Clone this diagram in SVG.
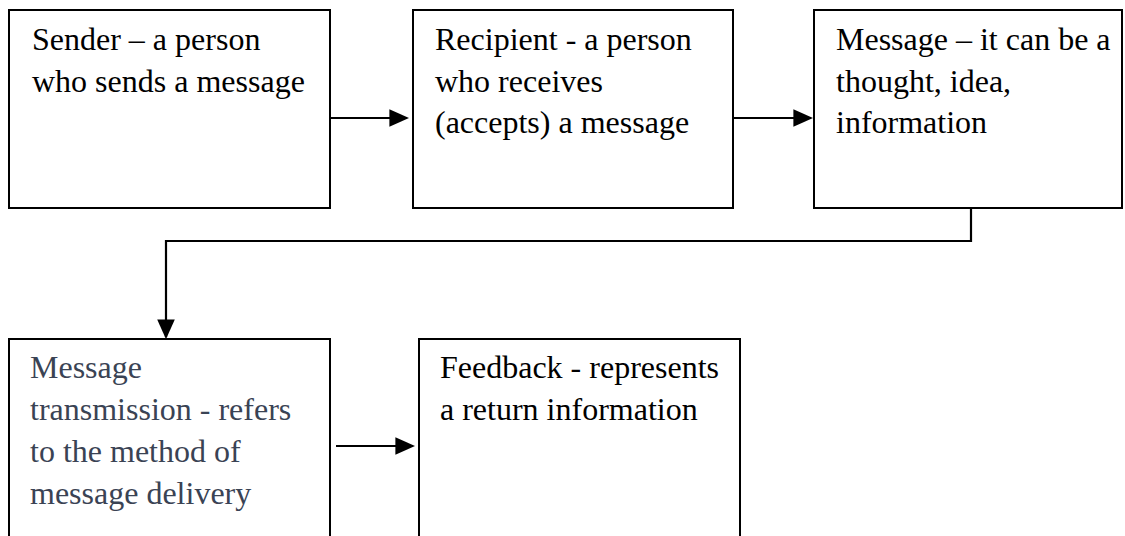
<svg xmlns="http://www.w3.org/2000/svg" width="1125" height="536" viewBox="0 0 1125 536">
<style>
.box{fill:#fff;stroke:#000;stroke-width:2}
.t{font-family:"Liberation Serif","Times New Roman",serif;font-size:32px;fill:#000}
.g{fill:#3a4354}
.c{fill:none;stroke:#000;stroke-width:2.2}
</style>
<defs>
<marker id="ah" markerWidth="9" markerHeight="8" refX="8" refY="4" orient="auto" markerUnits="strokeWidth">
<path d="M0,0 L9,4 L0,8 Z" fill="#000"/>
</marker>
</defs>
<rect width="1125" height="536" fill="#fff"/>
<g id="sender">
<rect class="box" x="9" y="10" width="321" height="198"/>
<text class="t" x="32" y="50">Sender – a person</text>
<text class="t" x="32" y="92">who sends a message</text>
</g>
<g id="recipient">
<rect class="box" x="413" y="10" width="320" height="198"/>
<text class="t" x="435" y="50">Recipient - a person</text>
<text class="t" x="435" y="92">who receives</text>
<text class="t" x="435" y="133">(accepts) a message</text>
</g>
<g id="message">
<rect class="box" x="814" y="10" width="308" height="198"/>
<text class="t" x="836" y="50">Message – it can be a</text>
<text class="t" x="836" y="92">thought, idea,</text>
<text class="t" x="836" y="133">information</text>
</g>
<g id="transmission">
<rect class="box" x="9" y="339" width="321" height="210"/>
<text class="t g" x="30" y="378">Message</text>
<text class="t g" x="30" y="420">transmission - refers</text>
<text class="t g" x="30" y="462">to the method of</text>
<text class="t g" x="30" y="504">message delivery</text>
</g>
<g id="feedback">
<rect class="box" x="419" y="339" width="321" height="210"/>
<text class="t" x="440" y="378">Feedback - represents</text>
<text class="t" x="440" y="420">a return information</text>
</g>
<g id="connectors">
<line class="c" x1="330" y1="118" x2="407" y2="118" marker-end="url(#ah)"/>
<line class="c" x1="734" y1="118" x2="811" y2="118" marker-end="url(#ah)"/>
<path class="c" d="M971,208 V241 H166 V337" marker-end="url(#ah)"/>
<line class="c" x1="336" y1="446" x2="413" y2="446" marker-end="url(#ah)"/>
</g>
</svg>
